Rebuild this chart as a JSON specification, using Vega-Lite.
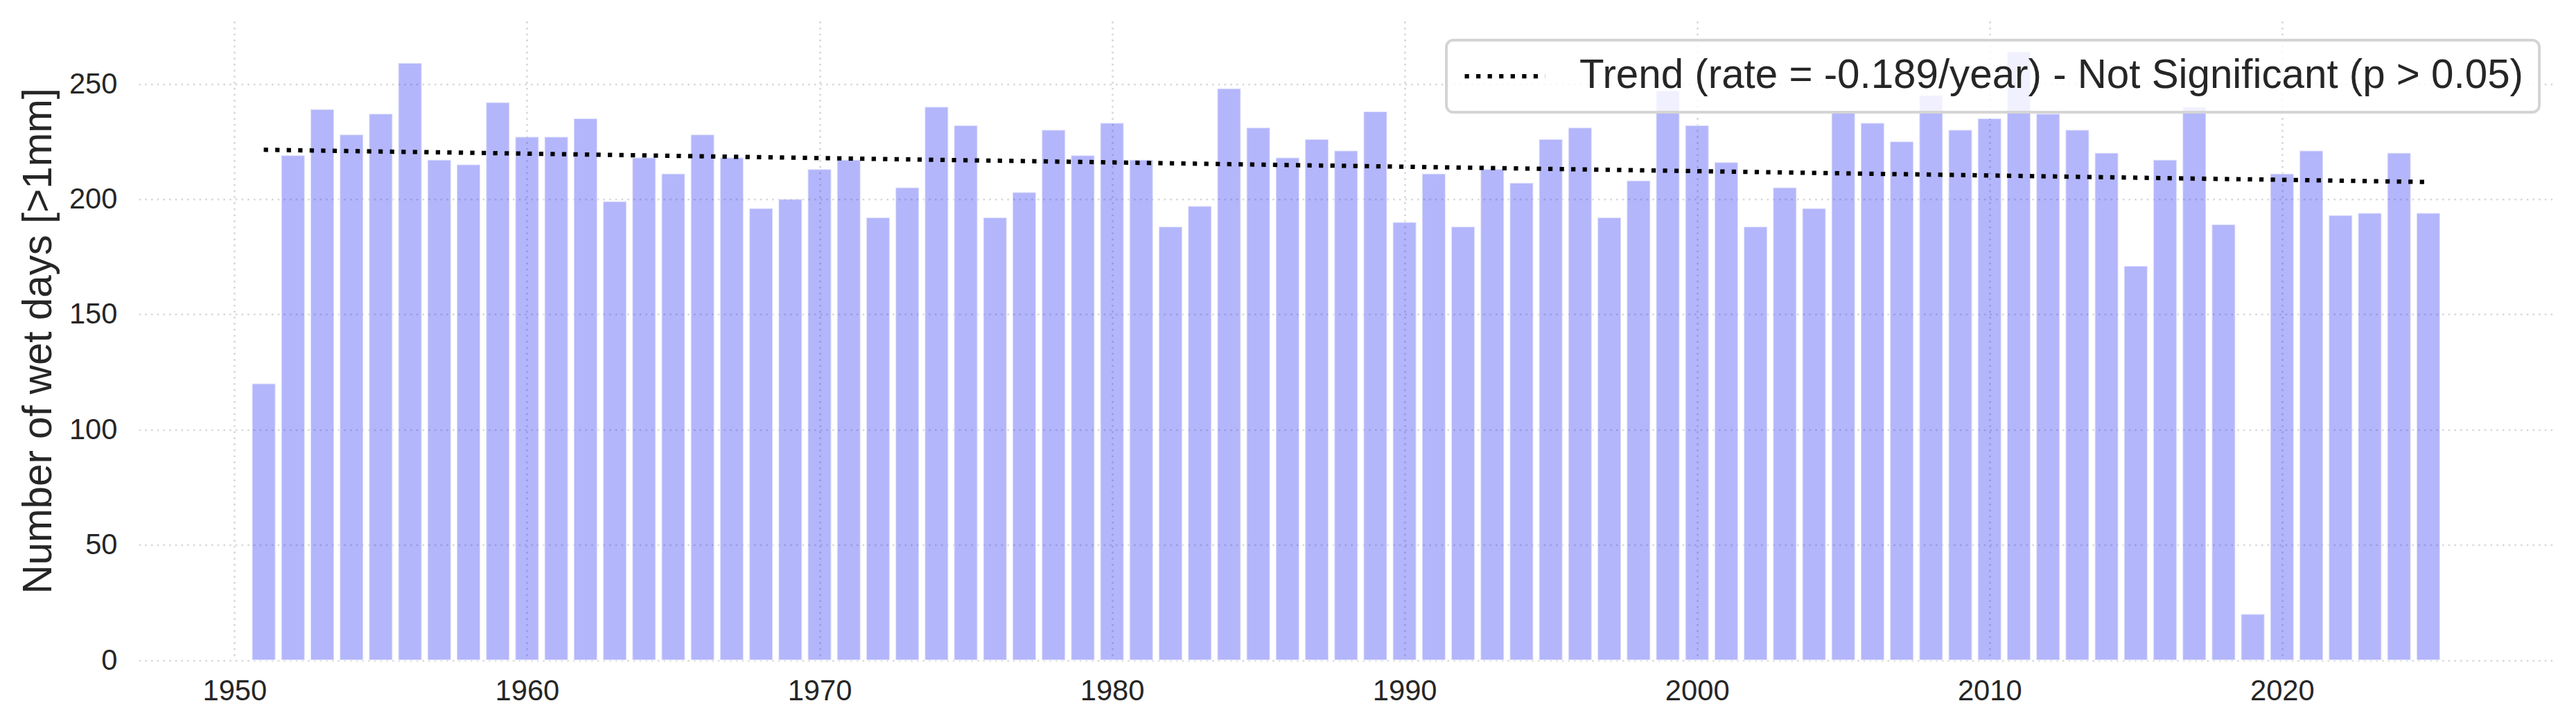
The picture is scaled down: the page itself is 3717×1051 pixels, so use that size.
{
  "$schema": "https://vega.github.io/schema/vega-lite/v6.json",
  "width": 3483.6,
  "height": 922.5,
  "autosize": {"type": "none"},
  "padding": {"left": 200, "top": 30.5, "right": 33.4, "bottom": 98},
  "background": "white",
  "config": {
    "view": {"stroke": null},
    "font": "Liberation Sans",
    "axis": {
      "domain": false,
      "ticks": false,
      "tickSize": 0,
      "grid": true,
      "gridColor": "#d9d9d9",
      "gridWidth": 2.7,
      "gridDash": [2.7, 6],
      "labelFont": "Liberation Sans",
      "labelFontSize": 41.7,
      "labelColor": "#262626",
      "titleFont": "Liberation Sans",
      "titleColor": "#262626",
      "titleFontWeight": "normal"
    },
    "legend": {
      "strokeColor": "#d4d4d4",
      "strokeWidth": 4,
      "cornerRadius": 10,
      "fillColor": "rgba(255,255,255,0.8)",
      "padding": 23
    }
  },
  "datasets": {
    "bars": [
      {"year": 1951, "days": 120}, {"year": 1952, "days": 219}, {"year": 1953, "days": 239},
      {"year": 1954, "days": 228}, {"year": 1955, "days": 237}, {"year": 1956, "days": 259},
      {"year": 1957, "days": 217}, {"year": 1958, "days": 215}, {"year": 1959, "days": 242},
      {"year": 1960, "days": 227}, {"year": 1961, "days": 227}, {"year": 1962, "days": 235},
      {"year": 1963, "days": 199}, {"year": 1964, "days": 218}, {"year": 1965, "days": 211},
      {"year": 1966, "days": 228}, {"year": 1967, "days": 218}, {"year": 1968, "days": 196},
      {"year": 1969, "days": 200}, {"year": 1970, "days": 213}, {"year": 1971, "days": 217},
      {"year": 1972, "days": 192}, {"year": 1973, "days": 205}, {"year": 1974, "days": 240},
      {"year": 1975, "days": 232}, {"year": 1976, "days": 192}, {"year": 1977, "days": 203},
      {"year": 1978, "days": 230}, {"year": 1979, "days": 219}, {"year": 1980, "days": 233},
      {"year": 1981, "days": 217}, {"year": 1982, "days": 188}, {"year": 1983, "days": 197},
      {"year": 1984, "days": 248}, {"year": 1985, "days": 231}, {"year": 1986, "days": 218},
      {"year": 1987, "days": 226}, {"year": 1988, "days": 221}, {"year": 1989, "days": 238},
      {"year": 1990, "days": 190}, {"year": 1991, "days": 211}, {"year": 1992, "days": 188},
      {"year": 1993, "days": 213}, {"year": 1994, "days": 207}, {"year": 1995, "days": 226},
      {"year": 1996, "days": 231}, {"year": 1997, "days": 192}, {"year": 1998, "days": 208},
      {"year": 1999, "days": 247}, {"year": 2000, "days": 232}, {"year": 2001, "days": 216},
      {"year": 2002, "days": 188}, {"year": 2003, "days": 205}, {"year": 2004, "days": 196},
      {"year": 2005, "days": 238}, {"year": 2006, "days": 233}, {"year": 2007, "days": 225},
      {"year": 2008, "days": 245}, {"year": 2009, "days": 230}, {"year": 2010, "days": 235},
      {"year": 2011, "days": 264}, {"year": 2012, "days": 237}, {"year": 2013, "days": 230},
      {"year": 2014, "days": 220}, {"year": 2015, "days": 171}, {"year": 2016, "days": 217},
      {"year": 2017, "days": 240}, {"year": 2018, "days": 189}, {"year": 2019, "days": 20},
      {"year": 2020, "days": 211}, {"year": 2021, "days": 221}, {"year": 2022, "days": 193},
      {"year": 2023, "days": 194}, {"year": 2024, "days": 220}, {"year": 2025, "days": 194}
    ],
    "trend": [
      {"year": 1951, "value": 221.4, "series": "Trend (rate = -0.189/year) - Not Significant (p > 0.05)"},
      {"year": 2025, "value": 207.4, "series": "Trend (rate = -0.189/year) - Not Significant (p > 0.05)"}
    ]
  },
  "layer": [
    {
      "data": {"name": "bars"},
      "mark": {
        "type": "bar",
        "width": 33.9,
        "fill": "#0a14f0",
        "fillOpacity": 0.31,
        "stroke": "white",
        "strokeOpacity": 0.55,
        "strokeWidth": 2
      },
      "encoding": {
        "x": {
          "field": "year",
          "type": "quantitative",
          "scale": {"domain": [1946.84, 2029.14], "nice": false, "zero": false},
          "axis": {
            "values": [1950, 1960, 1970, 1980, 1990, 2000, 2010, 2020],
            "format": "d",
            "title": null,
            "labelPadding": 24
          }
        },
        "y": {
          "field": "days",
          "type": "quantitative",
          "scale": {"domain": [0, 277.2], "nice": false},
          "axis": {
            "values": [0, 50, 100, 150, 200, 250],
            "title": "Number of wet days [>1mm]",
            "titleFontSize": 58.3,
            "titlePadding": 14,
            "labelPadding": 31
          }
        }
      }
    },
    {
      "data": {"name": "trend"},
      "mark": {
        "type": "line",
        "strokeWidth": 6.25,
        "strokeDash": [6.25, 10.3],
        "strokeCap": "butt"
      },
      "encoding": {
        "x": {"field": "year", "type": "quantitative"},
        "y": {"field": "value", "type": "quantitative"},
        "color": {
          "field": "series",
          "type": "nominal",
          "scale": {"range": ["#000000"]},
          "legend": {
            "title": null,
            "orient": "none",
            "legendX": 1887,
            "legendY": 27.5,
            "symbolType": "stroke",
            "symbolSize": 13456,
            "symbolStrokeWidth": 6.25,
            "symbolDash": [6.25, 10.3],
            "symbolStrokeColor": "#000000",
            "clipHeight": 58,
            "labelFontSize": 58.3,
            "labelFont": "Liberation Sans",
            "labelColor": "#262626",
            "labelOffset": 46,
            "labelLimit": 3000
          }
        }
      }
    }
  ]
}
